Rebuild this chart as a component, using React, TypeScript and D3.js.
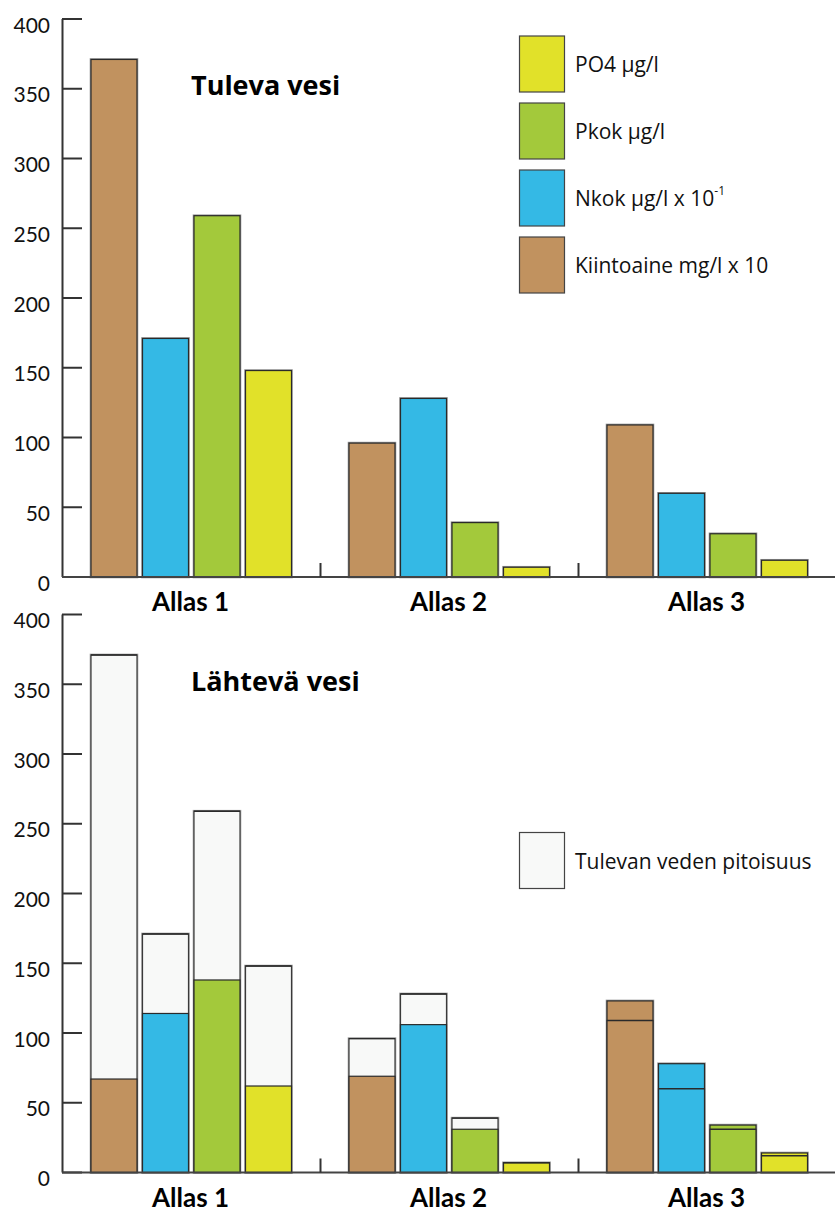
import React from "react";
import * as d3 from "d3";

const groups = ["Allas 1", "Allas 2", "Allas 3"];
const seriesNames = ["Kiintoaine", "Nkok", "Pkok", "PO4"];
const seriesColors = ["#c1925f", "#34b9e5", "#a3c93b", "#e1e129"];
const incomingColor = "#f8f9f8";

const tulevaKiintoaine = [371, 96, 109];
const tulevaNkok = [171, 128, 60];
const tulevaPkok = [259, 39, 31];
const tulevaPO4 = [148, 7, 12];

const lahtevaKiintoaine = [67, 69, 123];
const lahtevaNkok = [114, 106, 78];
const lahtevaPkok = [138, 31, 34];
const lahtevaPO4 = [62, 7, 14];

const yTicks = [0, 50, 100, 150, 200, 250, 300, 350, 400];

const legendTop = [
  { label: "PO4 µg/l", color: seriesColors[3], sup: "" },
  { label: "Pkok µg/l", color: seriesColors[2], sup: "" },
  { label: "Nkok µg/l x 10", color: seriesColors[1], sup: "-1" },
  { label: "Kiintoaine mg/l x 10", color: seriesColors[0], sup: "" },
];
const legendBottom = "Tulevan veden pitoisuus";

const tuleva = [tulevaKiintoaine, tulevaNkok, tulevaPkok, tulevaPO4];
const lahteva = [lahtevaKiintoaine, lahtevaNkok, lahtevaPkok, lahtevaPO4];

const W = 835;
const H = 1211;
const FONT = "Lato, 'Open Sans', sans-serif";
const FONT2 = "'Open Sans', Lato, sans-serif";

const xGroup = d3.scaleBand<string>().domain(groups).range([62.5, 836.5]).padding(0);
const xInner = d3
  .scaleBand<string>()
  .domain(seriesNames)
  .range([28.5, 229])
  .paddingInner(0.107)
  .paddingOuter(0);

function Panel({
  base,
  top,
  title,
  titleY,
  mode,
}: {
  base: number;
  top: number;
  title: string;
  titleY: number;
  mode: "in" | "out";
}) {
  const y = d3.scaleLinear().domain([0, 400]).range([base, top]);
  const bw = xInner.bandwidth();
  const bars: React.ReactNode[] = [];
  groups.forEach((g, gi) => {
    seriesNames.forEach((s, si) => {
      const x = (xGroup(g) as number) + (xInner(s) as number);
      const vin = tuleva[si][gi];
      const key = `${g}-${s}`;
      if (mode === "in") {
        bars.push(
          <g key={key}>
            <rect x={x} y={y(vin)} width={bw} height={base - y(vin)} fill="none" stroke="#9a9a9a" strokeWidth={2.6} />
            <rect x={x} y={y(vin)} width={bw} height={base - y(vin)} fill={seriesColors[si]} stroke="#2a2a2a" strokeWidth={1.2} />
          </g>
        );
      } else {
        const vout = lahteva[si][gi];
        bars.push(
          <g key={key}>
            <rect x={x} y={y(Math.max(vin, vout))} width={bw} height={base - y(Math.max(vin, vout))} fill="none" stroke="#a0a0a0" strokeWidth={2.6} />
            <rect x={x} y={y(vin)} width={bw} height={base - y(vin)} fill={incomingColor} stroke="#3a3a3a" strokeWidth={1.2} />
            <rect x={x} y={y(vout)} width={bw} height={base - y(vout)} fill={seriesColors[si]} stroke="#2a2a2a" strokeWidth={1.2} />
            <line x1={x} x2={x + bw} y1={y(vin)} y2={y(vin)} stroke="#2a2a2a" strokeWidth={1.4} />
          </g>
        );
      }
    });
  });

  return (
    <g>
      {bars}
      <line x1={62.5} x2={62.5} y1={top} y2={base} stroke="#333" strokeWidth={2} />
      {yTicks.map((t) => (
        <g key={t}>
          <line x1={62} x2={82} y1={y(t)} y2={y(t)} stroke="#333" strokeWidth={2} />
          <text x={50} y={y(t) + 5} textAnchor="end" dominantBaseline="central" fontSize={21} fontFamily={FONT} fill="#111">
            {t}
          </text>
        </g>
      ))}
      <line x1={62} x2={W} y1={base} y2={base} stroke="#444" strokeWidth={2} />
      {groups.slice(1).map((g) => (
        <line key={g} x1={xGroup(g) as number} x2={xGroup(g) as number} y1={base - 14} y2={base} stroke="#333" strokeWidth={2} />
      ))}
      {groups.map((g) => (
        <text
          key={g}
          x={(xGroup(g) as number) + xGroup.bandwidth() / 2 - 1}
          y={base + 34}
          textAnchor="middle"
          fontSize={26}
          fontWeight={700}
          fontFamily={FONT}
          fill="#000"
        >
          {g}
        </text>
      ))}
      <text x={191} y={titleY} fontSize={27} fontWeight={700} fontFamily={FONT2} fill="#000">
        {title}
      </text>
    </g>
  );
}

export default function App() {
  return (
    <div style={{ position: "absolute", left: 0, top: 0 }}>
      <svg width={W} height={H} style={{ display: "block", background: "#fff" }}>
        <Panel base={577} top={19} title="Tuleva vesi" titleY={95} mode="in" />
        <Panel base={1172.5} top={614.5} title="Lähtevä vesi" titleY={691} mode="out" />
        {legendTop.map((l, i) => (
          <g key={l.label}>
            <rect x={519.5} y={36 + i * 67} width={45} height={56} fill={l.color} stroke="#444" strokeWidth={1.2} />
            <text x={575} y={64 + i * 67} dominantBaseline="central" fontSize={21} fontFamily={FONT2} fill="#111">
              {l.label}
              {l.sup ? (
                <tspan fontSize={12} dy={-8}>
                  {l.sup}
                </tspan>
              ) : null}
            </text>
          </g>
        ))}
        <rect x={519.5} y={832.5} width={45} height={56} fill={incomingColor} stroke="#444" strokeWidth={1.2} />
        <text x={575} y={860.5} dominantBaseline="central" fontSize={21} fontFamily={FONT2} fill="#111">
          {legendBottom}
        </text>
      </svg>
    </div>
  );
}
